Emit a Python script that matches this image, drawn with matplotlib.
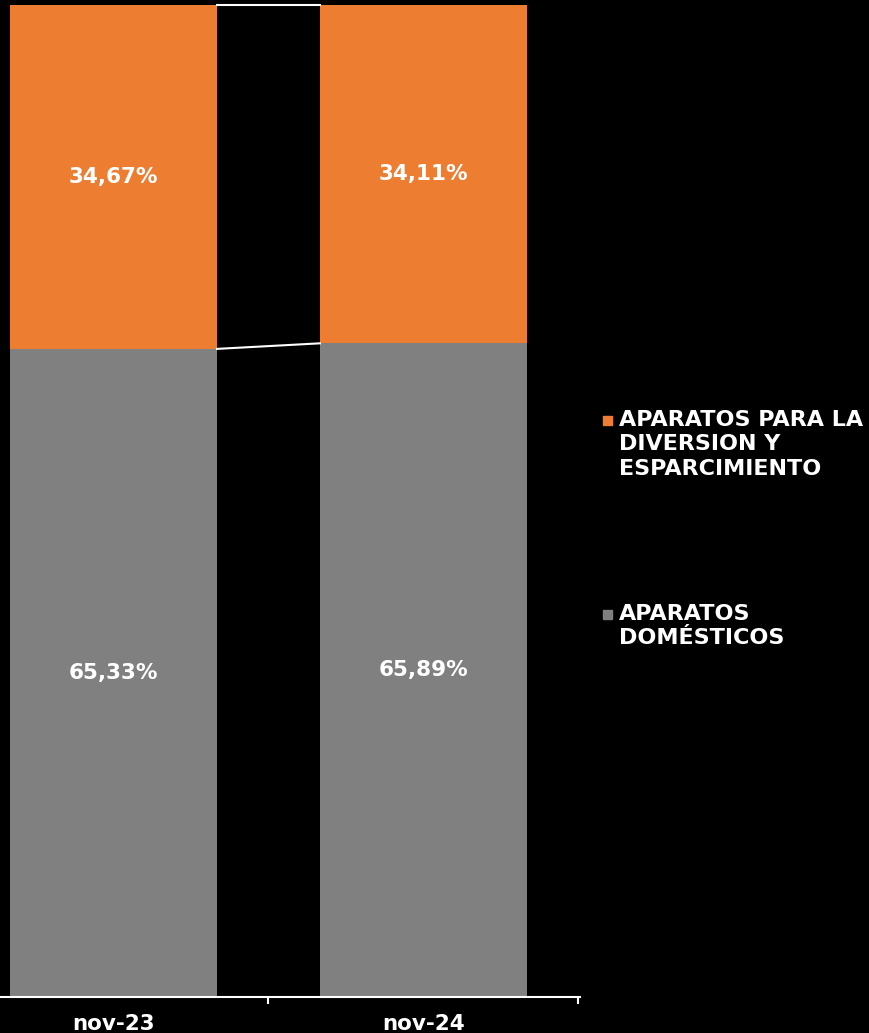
import matplotlib.pyplot as plt
from matplotlib.patches import Rectangle

# data
meses = ["nov-23", "nov-24"]
domesticos = [65.33, 65.89]
diversion = [34.67, 34.11]
series = ["APARATOS PARA LA\nDIVERSION Y\nESPARCIMIENTO", "APARATOS\nDOMÉSTICOS"]
colores = ["#ED7D31", "#808080"]

plt.rcParams['font.family'] = ['DejaVu Sans']

fig = plt.figure(figsize=(8.69, 10.33), dpi=100, facecolor="black")
ax = fig.add_axes([0, 0.0349, 0.6674, 0.9603], facecolor="black")

x = [0, 1]
w = 0.668
fr_dom = [v / 100 for v in domesticos]
fr_div = [v / 100 for v in diversion]
ax.bar(x, fr_dom, width=w, color=colores[1])
ax.bar(x, fr_div, width=w, bottom=fr_dom, color=colores[0])

# series lines
ax.plot([x[0] + w / 2, x[1] - w / 2], fr_dom, color="white", lw=1.5)
tops = [a + b for a, b in zip(fr_dom, fr_div)]
ax.plot([x[0] + w / 2, x[1] - w / 2], tops, color="white", lw=1.5, clip_on=False)

fs = 15.5
for i in range(2):
    ax.text(x[i], fr_dom[i] / 2, f"{domesticos[i]:.2f}%".replace(".", ","),
            ha="center", va="center", color="white", fontsize=fs, fontweight="bold")
    ax.text(x[i], fr_dom[i] + fr_div[i] / 2, f"{diversion[i]:.2f}%".replace(".", ","),
            ha="center", va="center", color="white", fontsize=fs, fontweight="bold")

ax.set_xlim(-0.366, 1.505)
ax.set_ylim(0, 1)
ax.set_yticks([])
ax.set_xticks(x)
ax.set_xticklabels(meses, color="white", fontsize=fs, fontweight="bold")
ax.tick_params(axis="x", length=0, pad=12)
ax.set_xticks([0.5, 1.5], minor=True)
ax.tick_params(axis="x", which="minor", length=5, width=1.5, color="white")
for s in ["top", "right", "left"]:
    ax.spines[s].set_visible(False)
ax.spines["bottom"].set_color("white")
ax.spines["bottom"].set_linewidth(1.5)

# legend
leg_y = [420, 614]
for lab, col, yy in zip(series, colores, leg_y):
    fig.add_artist(Rectangle((603 / 869, 1 - (yy + 5) / 1033), 9 / 869, 9 / 1033,
                             transform=fig.transFigure, color=col))
    fig.text(619 / 869, 1 - (yy - 10) / 1033, lab, ha="left", va="top", color="white",
             fontsize=16, fontweight="bold", linespacing=1.28)

fig.savefig("out.png", dpi=100, facecolor="black")
